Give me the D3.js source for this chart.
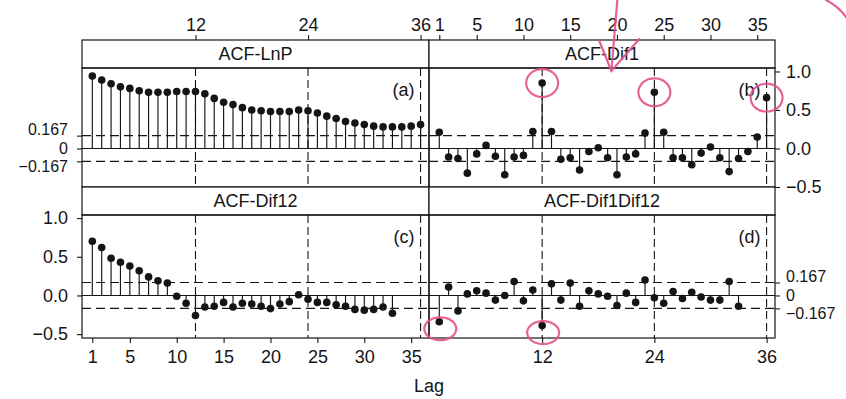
<!DOCTYPE html>
<html><head><meta charset="utf-8">
<script src="https://cdn.jsdelivr.net/npm/d3@7"></script>
<style>
html,body{margin:0;padding:0;background:#fff;}
svg{display:block;}
</style></head><body>
<svg id="chart" width="846" height="399"></svg>
<script>
// ---------------- data ----------------
const acfLnP = [0.94,0.89,0.84,0.80,0.78,0.75,0.73,0.73,0.73,0.74,0.74,0.74,0.71,0.65,0.60,0.57,0.53,0.50,0.49,0.48,0.48,0.48,0.50,0.49,0.46,0.42,0.39,0.35,0.33,0.31,0.29,0.28,0.28,0.28,0.29,0.31];
const acfDif1 = [0.21,-0.11,-0.13,-0.32,-0.07,0.04,-0.10,-0.34,-0.11,-0.09,0.22,0.85,0.22,-0.14,-0.12,-0.28,-0.04,0.01,-0.12,-0.34,-0.11,-0.07,0.20,0.73,0.21,-0.12,-0.12,-0.21,-0.06,0.02,-0.12,-0.30,-0.13,-0.04,0.15,0.66];
const acfDif12 = [0.70,0.62,0.48,0.43,0.38,0.32,0.24,0.19,0.16,-0.01,-0.10,-0.26,-0.15,-0.14,-0.09,-0.15,-0.10,-0.11,-0.14,-0.17,-0.11,-0.08,0.01,-0.05,-0.09,-0.09,-0.12,-0.14,-0.18,-0.19,-0.18,-0.15,-0.23];
const acfDif1Dif12 = [-0.34,0.11,-0.20,0.02,0.06,0.03,-0.06,0.00,0.18,-0.07,0.07,-0.39,0.15,-0.06,0.16,-0.14,0.06,0.02,-0.01,-0.13,0.03,-0.09,0.20,-0.03,-0.10,0.05,-0.04,0.04,-0.02,-0.06,-0.06,0.18,-0.14];
const panelTitles = ["ACF-LnP", "ACF-Dif1", "ACF-Dif12", "ACF-Dif1Dif12"];
const panelTags = ["(a)", "(b)", "(c)", "(d)"];
const seasonalLags = [12, 24, 36];
const lagTicks = [1, 5, 10, 15, 20, 25, 30, 35];
const acfTicks = [-0.5, 0, 0.5, 1.0];
const ciTicks = [0.167, 0, -0.167];
const ciBound = 0.167;
const xLabel = "Lag";
// hand-drawn pink marks on the scan (panel index, lag)
const circled = [[1, 12], [1, 24], [1, 36], [3, 1], [3, 12]];

// ---------------- layout ----------------
const FONT = "'Liberation Sans', Arial, Helvetica, sans-serif";
const FS = 18;
const INK = "#151515";
const PINK = "#e2528c";
const cols = [[82, 429], [429, 775]];
const rows = [
  {stripTop: 40, panelTop: 68, panelBottom: 187, domain: [-0.5, 1.045]},
  {stripTop: 187, panelTop: 215, panelBottom: 338, domain: [-0.55, 1.04]}
];
const fmtCI = d => d === 0 ? "0" : (d < 0 ? "\u2212" : "") + Math.abs(d).toFixed(3);
const fmtOne = d => (d < 0 ? "\u2212" : "") + Math.abs(d).toFixed(1);

const panels = [
  {data: acfLnP, col: 0, row: 0, axes: {top: [seasonalLags, d => d], left: [ciTicks, fmtCI, true]}},
  {data: acfDif1, col: 1, row: 0, axes: {top: [lagTicks, d => d], right: [acfTicks, fmtOne]}},
  {data: acfDif12, col: 0, row: 1, axes: {bottom: [lagTicks, d => d], left: [acfTicks, fmtOne]}},
  {data: acfDif1Dif12, col: 1, row: 1, axes: {bottom: [seasonalLags, d => d], right: [ciTicks, fmtCI, true]}}
];

const svg = d3.select("#chart");
svg.append("rect").attr("width", 846).attr("height", 399).attr("fill", "#fff");

const scales = [];

panels.forEach((p, i) => {
  const [x0, x1] = cols[p.col];
  const r = rows[p.row];
  const x = d3.scaleLinear().domain([-0.1, 36.9]).range([x0, x1]);
  const y = d3.scaleLinear().domain(r.domain).range([r.panelBottom, r.panelTop]);
  scales.push({x, y});
  const g = svg.append("g");

  // strip
  g.append("rect").attr("x", x0).attr("y", r.stripTop)
    .attr("width", x1 - x0).attr("height", r.panelTop - r.stripTop)
    .attr("fill", "#fff").attr("stroke", INK).attr("stroke-width", 1.2);
  g.append("text").attr("x", (x0 + x1) / 2).attr("y", (r.stripTop + r.panelTop) / 2)
    .attr("dy", "0.36em").attr("text-anchor", "middle")
    .attr("font-family", FONT).attr("font-size", FS).attr("fill", INK)
    .text(panelTitles[i]);

  // reference lines
  g.selectAll(".vs").data(seasonalLags).join("line")
    .attr("x1", d => x(d)).attr("x2", d => x(d))
    .attr("y1", r.panelTop).attr("y2", r.panelBottom)
    .attr("stroke", INK).attr("stroke-width", 1.1).attr("stroke-dasharray", "8,4");
  g.selectAll(".ci").data([ciBound, -ciBound]).join("line")
    .attr("x1", x0).attr("x2", x1)
    .attr("y1", d => y(d)).attr("y2", d => y(d))
    .attr("stroke", INK).attr("stroke-width", 1.1).attr("stroke-dasharray", "9,5");
  g.append("line").attr("x1", x0).attr("x2", x1).attr("y1", y(0)).attr("y2", y(0))
    .attr("stroke", INK).attr("stroke-width", 1.1);

  // stems and dots
  const pts = p.data.map((v, k) => ({lag: k + 1, v}));
  g.selectAll(".stem").data(pts).join("line")
    .attr("x1", d => x(d.lag)).attr("x2", d => x(d.lag))
    .attr("y1", y(0)).attr("y2", d => y(d.v))
    .attr("stroke", INK).attr("stroke-width", 1.15);
  g.selectAll(".dot").data(pts).join("circle")
    .attr("cx", d => x(d.lag)).attr("cy", d => y(d.v)).attr("r", 3.8)
    .attr("fill", INK);

  // panel tag
  g.append("text").attr("x", x(36) - 6).attr("y", r.panelTop + 28)
    .attr("text-anchor", "end").attr("font-family", FONT).attr("font-size", FS).attr("fill", INK)
    .text(panelTags[i]);

  // border
  g.append("rect").attr("x", x0).attr("y", r.panelTop)
    .attr("width", x1 - x0).attr("height", r.panelBottom - r.panelTop)
    .attr("fill", "none").attr("stroke", INK).attr("stroke-width", 1.2);

  // axes
  const styleAxis = (ag, tight) => {
    ag.select(".domain").remove();
    ag.selectAll("line").attr("stroke", INK).attr("stroke-width", 1.1);
    ag.selectAll("text").attr("font-family", FONT).attr("font-size", tight ? 16 : FS).attr("fill", INK);
    if (tight) {
      // the three close labels are spread a little so they stack like the original
      ag.selectAll("text").attr("dy", d => d > 0 ? "-0.05em" : d < 0 ? "0.62em" : "0.3em");
    }
  };
  if (p.axes.top) {
    const [vals, f] = p.axes.top;
    g.append("g").attr("transform", `translate(0,${r.stripTop})`)
      .call(d3.axisTop(x).tickValues(vals).tickFormat(f).tickSize(5).tickPadding(4)).call(styleAxis, false);
  }
  if (p.axes.bottom) {
    const [vals, f] = p.axes.bottom;
    g.append("g").attr("transform", `translate(0,${r.panelBottom})`)
      .call(d3.axisBottom(x).tickValues(vals).tickFormat(f).tickSize(5).tickPadding(7)).call(styleAxis, false);
  }
  if (p.axes.left) {
    const [vals, f, tight] = p.axes.left;
    g.append("g").attr("transform", `translate(${x0},0)`)
      .call(d3.axisLeft(y).tickValues(vals).tickFormat(f).tickSize(5).tickPadding(9)).call(styleAxis, !!tight);
  }
  if (p.axes.right) {
    const [vals, f, tight] = p.axes.right;
    g.append("g").attr("transform", `translate(${x1},0)`)
      .call(d3.axisRight(y).tickValues(vals).tickFormat(f).tickSize(5).tickPadding(6)).call(styleAxis, !!tight);
  }
});

// x label
svg.append("text").attr("x", 429).attr("y", 392).attr("text-anchor", "middle")
  .attr("font-family", FONT).attr("font-size", FS).attr("fill", INK).text(xLabel);

// ---------------- pink hand annotations ----------------
const ann = svg.append("g").attr("fill", "none").attr("stroke", PINK)
  .attr("stroke-width", 2.2).attr("stroke-linecap", "round").attr("opacity", 0.9);
circled.forEach(([pi, lag]) => {
  const {x, y} = scales[pi];
  const v = panels[pi].data[lag - 1];
  const bottomRow = panels[pi].row === 1;
  const cx = x(lag) + (bottomRow ? 1 : 0);
  const cy = y(v) + (bottomRow ? 7 : 0);
  const rx = 16, ry = bottomRow ? 11.5 : 14;
  const pts = d3.range(0, 1.04, 0.02).map(t => {
    const a = -1.9 + t * 2 * Math.PI * 1.02;
    return [cx + rx * Math.cos(a), cy + ry * Math.sin(a)];
  });
  ann.append("path").attr("d", d3.line().curve(d3.curveBasis)(pts));
});
// arrow pointing down into panel (b)
{
  const {x} = scales[1];
  const tipX = x(19.4), tipY = rows[0].panelTop + 3;
  ann.append("path").attr("d", `M${tipX + 6},0 L${tipX},${tipY}`);
  ann.append("path").attr("d", `M${tipX - 12},${tipY - 30} L${tipX},${tipY} L${tipX + 28},${tipY - 32}`);
}
// arc at top-right corner
ann.append("path").attr("d", "M826,0 Q838,6 846,17");
</script>
</body></html>
